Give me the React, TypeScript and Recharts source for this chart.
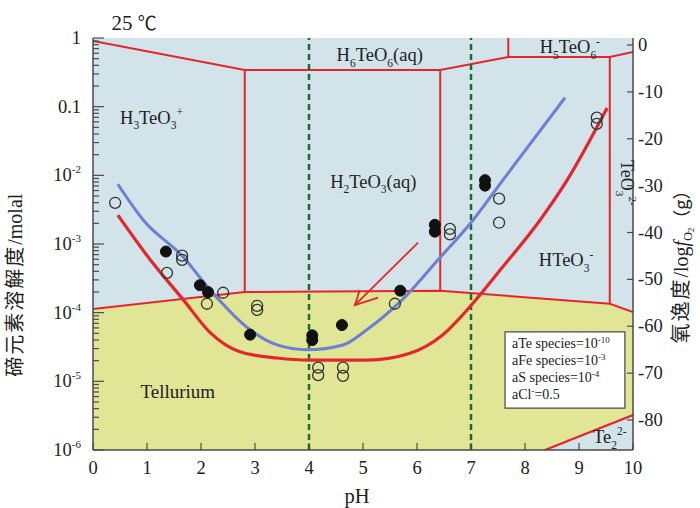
import React from 'react';
import {
  ComposedChart, XAxis, YAxis, Line, Area, Scatter, CartesianGrid,
  ReferenceLine, ReferenceArea, ReferenceDot,
} from 'recharts';

const SERIF = '"Liberation Serif", "Times New Roman", serif';
const CJK = '"Noto Sans CJK SC", "Noto Sans", sans-serif';
const BLUE_BG = '#d2e3ea';
const YELLOW = '#e1e697';
const RED = '#e4262c';
const BLUE_LINE = '#6c7fd4';
const GREEN = '#1f6a30';
const AXC = '#4a4a4a';
const TXT = '#222';

// ---------- axes ----------
const phTicks = [0, 1, 2, 3, 4, 5, 6, 7, 8, 9, 10];
const logMajor = [0, -1, -2, -3, -4, -5, -6];
const minorMult = [2, 3, 4, 5, 6, 7, 8, 9];
const logMinor = logMajor.slice(1).flatMap((n) => minorMult.map((k) => n + Math.log10(k)));
const leftTicks = [...logMajor, ...logMinor].sort((a, b) => a - b);
const fugTicks = [0, -10, -20, -30, -40, -50, -60, -70, -80];
const fugDomain = [-86.4, 1.5];

// ---------- measured points (pH, log10 molal) ----------
const filledPH = [1.35, 1.98, 2.13, 2.91, 4.06, 4.06, 4.61, 5.69, 6.33, 6.33, 7.26, 7.26];
const filledLogM = [-3.11, -3.6, -3.7, -4.32, -4.33, -4.4, -4.18, -3.68, -2.72, -2.82, -2.07, -2.15];

const openPH = [0.41, 1.65, 1.65, 1.37, 2.41, 2.11, 3.04, 3.04, 4.17, 4.17, 4.63, 4.63, 5.59, 6.61, 6.61, 7.52, 7.52, 9.33, 9.33];
const openLogM = [-2.4, -3.17, -3.23, -3.42, -3.71, -3.87, -3.9, -3.96, -4.8, -4.91, -4.8, -4.92, -3.87, -2.78, -2.86, -2.34, -2.69, -1.16, -1.25];

// ---------- fitted curves ----------
const blueCurvePH = [0.46, 0.93, 1.67, 2.17, 2.91, 3.41, 3.96, 4.63, 5.07, 5.69, 6.39, 7.04, 7.59, 8.74];
const blueCurveLogM = [-2.13, -2.65, -3.19, -3.67, -4.25, -4.47, -4.54, -4.47, -4.25, -3.84, -3.23, -2.65, -2.07, -0.87];

const redCurvePH = [0.46, 1.06, 1.67, 2.17, 2.72, 3.41, 4.02, 5.07, 5.87, 6.48, 7.04, 7.54, 8.28, 8.78, 9.52];
const redCurveLogM = [-2.58, -3.23, -3.81, -4.29, -4.57, -4.66, -4.69, -4.69, -4.59, -4.32, -3.86, -3.38, -2.65, -2.07, -1.02];

// ---------- phase boundaries ----------
const topBoundPH = [0, 2.81, 6.43, 7.69, 9.57, 10];
const topBoundLogM = [-0.044, -0.466, -0.466, -0.277, -0.277, -0.204];
const teBoundPH = [0, 2.81, 6.43, 9.57, 10];
const teBoundLogM = [-3.945, -3.7, -3.68, -3.87, -3.99];
const verticalPH = [2.81, 6.43, 7.69, 9.57];
const verticalTopLogM = [-0.466, -0.466, 0, -0.277];
const verticalBottomLogM = [-3.7, -3.68, -0.277, -3.87];
const te2PH = [8.37, 10];
const te2LogM = [-6, -5.49];

// ---------- arrow ----------
const arrowShaftPH = [6.02, 4.85];
const arrowShaftLogM = [-2.98, -3.89];
const arrowHeadPH = [4.94, 4.85, 5.28];
const arrowHeadLogM = [-3.67, -3.89, -3.78];

const guidePH = [4, 7];

const legendBoxPH = [7.63, 9.85];
const legendBoxLogM = [-5.39, -4.28];
const legendLines = [
  { pre: 'aTe species=10', sup: '-10', post: '' },
  { pre: 'aFe species=10', sup: '-3', post: '' },
  { pre: 'aS species=10', sup: '-4', post: '' },
  { pre: 'aCl', sup: '-', post: '=0.5' },
];

type Part = [string, 'n' | 'sub' | 'sup'];
const regionLabels: { ph: number; logm: number; anchor: string; size: number; rotate?: number; parts: Part[] }[] = [
  { ph: 0.5, logm: -1.25, anchor: 'start', size: 18.5, parts: [['H', 'n'], ['3', 'sub'], ['TeO', 'n'], ['3', 'sub'], ['+', 'sup']] },
  { ph: 5.31, logm: -0.335, anchor: 'middle', size: 18.5, parts: [['H', 'n'], ['6', 'sub'], ['TeO', 'n'], ['6', 'sub'], ['(aq)', 'n']] },
  { ph: 8.83, logm: -0.22, anchor: 'middle', size: 18.5, parts: [['H', 'n'], ['5', 'sub'], ['TeO', 'n'], ['6', 'sub'], ['-', 'sup']] },
  { ph: 5.19, logm: -2.18, anchor: 'middle', size: 18.5, parts: [['H', 'n'], ['2', 'sub'], ['TeO', 'n'], ['3', 'sub'], ['(aq)', 'n']] },
  { ph: 8.76, logm: -3.32, anchor: 'middle', size: 18.5, parts: [['HTeO', 'n'], ['3', 'sub'], ['-', 'sup']] },
  { ph: 9.78, logm: -2.11, anchor: 'middle', size: 18, rotate: 90, parts: [['TeO', 'n'], ['3', 'sub'], ['2-', 'sup']] },
  { ph: 1.57, logm: -5.24, anchor: 'middle', size: 19, parts: [['Tellurium', 'n']] },
  { ph: 9.57, logm: -5.9, anchor: 'middle', size: 18.5, parts: [['Te', 'n'], ['2', 'sub'], ['2-', 'sup']] },
];

const zip = (xs: number[], ys: number[]) => xs.map((x, i) => ({ x, y: ys[i] }));

const filledData = zip(filledPH, filledLogM);
const openData = zip(openPH, openLogM);
const blueCurve = zip(blueCurvePH, blueCurveLogM);
const redCurve = zip(redCurvePH, redCurveLogM);
const topBound = zip(topBoundPH, topBoundLogM);
const teBound = zip(teBoundPH, teBoundLogM);
const te2Line = zip(te2PH, te2LogM);
const tellurArea = teBoundPH.map((x, i) => ({ x, r: [-6, teBoundLogM[i]] }));
const te2Area = te2PH.map((x, i) => ({ x, r: [-6, te2LogM[i]] }));
const verticals = verticalPH.map((x, i) => [{ x, y: verticalTopLogM[i] }, { x, y: verticalBottomLogM[i] }]);
const arrowShaft = zip(arrowShaftPH, arrowShaftLogM);
const arrowHead = zip(arrowHeadPH, arrowHeadLogM);

function chemSpans(parts: Part[], size: number) {
  let shift = 0;
  return parts.map(([t, k], i) => {
    const target = k === 'sub' ? size * 0.3 : k === 'sup' ? -size * 0.42 : 0;
    const dy = target - shift;
    shift = target;
    return (
      <tspan key={i} dy={dy} fontSize={k === 'n' ? size : size * 0.62}>{t}</tspan>
    );
  });
}

function BottomTick(p: any) {
  const { x, y, payload } = p;
  return (
    <g>
      <line x1={x} x2={x} y1={y} y2={y - 7} stroke={AXC} strokeWidth={1.2} />
      <text x={x} y={y + 24} textAnchor="middle" fontFamily={SERIF} fontSize={18.5} fill={TXT}>{payload.value}</text>
    </g>
  );
}
function TopTick(p: any) {
  const { x, y } = p;
  return <line x1={x} x2={x} y1={y} y2={y + 6} stroke={AXC} strokeWidth={1.2} />;
}
function LeftTick(p: any) {
  const { x, y, payload } = p;
  const v = payload.value as number;
  const major = Math.abs(v - Math.round(v)) < 1e-9;
  let label: React.ReactNode = null;
  if (major) {
    const n = Math.round(v);
    if (n === 0) label = '1';
    else if (n === -1) label = '0.1';
    else label = (<>10<tspan dy={-8} fontSize={11}>{String(n)}</tspan></>);
  }
  return (
    <g>
      <line x1={x} x2={x + (major ? 11 : 6)} y1={y} y2={y} stroke={AXC} strokeWidth={1.2} />
      {major && (
        <text x={x - 12} y={y + 6} textAnchor="end" fontFamily={SERIF} fontSize={18.5} fill={TXT}>{label}</text>
      )}
    </g>
  );
}
function RightTick(p: any) {
  const { x, y, payload } = p;
  return (
    <g>
      <line x1={x} x2={x - 6} y1={y} y2={y} stroke={AXC} strokeWidth={1.2} />
      <text x={x + 5} y={y + 6} textAnchor="start" fontFamily={SERIF} fontSize={18.5} fill={TXT}>{payload.value}</text>
    </g>
  );
}

function LeftTitle(p: any) {
  const vb = p.viewBox;
  const cx = vb.x + 22;
  const cy = vb.y + vb.height * 0.6;
  return (
    <text x={cx} y={cy} textAnchor="middle" transform={`rotate(-90, ${cx}, ${cy})`} fontSize={20} fill={TXT}>
      <tspan fontFamily={CJK} letterSpacing={2}>碲元素溶解度</tspan>
      <tspan fontFamily={SERIF}>/molal</tspan>
    </text>
  );
}
function RightTitle(p: any) {
  const vb = p.viewBox;
  const cx = vb.x + 55;
  const cy = vb.y + vb.height * 0.545;
  return (
    <text x={cx} y={cy} textAnchor="middle" transform={`rotate(-90, ${cx}, ${cy})`} fontSize={20} fill={TXT}>
      <tspan fontFamily={CJK} letterSpacing={2}>氧逸度</tspan>
      <tspan fontFamily={SERIF}>/log</tspan>
      <tspan fontFamily={SERIF} fontStyle="italic">f</tspan>
      <tspan fontFamily={SERIF} fontSize={12} dy={4}>O</tspan>
      <tspan fontFamily={SERIF} fontSize={9} dy={2}>2</tspan>
      <tspan fontFamily={CJK} fontSize={18} dy={-6}>（g）</tspan>
    </text>
  );
}
function BottomTitle(p: any) {
  const vb = p.viewBox;
  return (
    <text x={vb.x + vb.width * 0.489} y={vb.y + 53} textAnchor="middle" fontFamily={SERIF} fontSize={20.5} fill={TXT}>pH</text>
  );
}

function makeRegionLabel(l: typeof regionLabels[number]) {
  return (p: any) => {
    const vb = p.viewBox;
    const cx = vb.x + vb.width / 2;
    const cy = vb.y + vb.height / 2;
    return (
      <text
        x={cx}
        y={cy}
        textAnchor={l.anchor as any}
        transform={l.rotate ? `rotate(${l.rotate}, ${cx}, ${cy})` : undefined}
        fontFamily={SERIF}
        fontSize={l.size}
        fill={TXT}
      >
        {chemSpans(l.parts, l.size)}
      </text>
    );
  };
}

function TitleLabel(p: any) {
  const vb = p.viewBox;
  const cx = vb.x + vb.width / 2;
  const cy = vb.y + vb.height / 2;
  return (
    <text x={cx} y={cy - 8} textAnchor="middle" fontFamily={SERIF} fontSize={21} fill={TXT}>
      25 <tspan fontFamily={CJK} fontSize={19}>℃</tspan>
    </text>
  );
}

function LegendBox(p: any) {
  const { x, y, width, height } = p.viewBox;
  return (
    <g>
      <rect x={x} y={y} width={width} height={height} fill="#fff" stroke="#444" strokeWidth={1.2} />
      {legendLines.map((l, i) => (
        <text key={i} x={x + 7} y={y + 16 + i * 17} fontFamily={SERIF} fontSize={14} fill={TXT}>
          {l.pre}
          <tspan dy={-5} fontSize={9}>{l.sup}</tspan>
          {l.post ? <tspan dy={5}>{l.post}</tspan> : null}
        </text>
      ))}
    </g>
  );
}

const circleFilled = (p: any) => <circle cx={p.cx} cy={p.cy} r={5.5} fill="#111" stroke="#111" strokeWidth={1} />;
const circleOpen = (p: any) => <circle cx={p.cx} cy={p.cy} r={5.5} fill="none" stroke="#333" strokeWidth={1.3} />;

export default function App() {
  return (
    <div style={{ position: 'absolute', left: 0, top: 0, width: 700, height: 508, background: '#fff' }}>
      <ComposedChart width={700} height={508} margin={{ top: 38, right: 0, bottom: 0, left: 0 }}>
        <CartesianGrid horizontal={false} vertical={false} fill={BLUE_BG} fillOpacity={1} />
        <XAxis
          dataKey="x" type="number" domain={[0, 10]} ticks={phTicks} interval={0}
          height={58} tickSize={0} tickMargin={0} tick={<BottomTick />}
          axisLine={{ stroke: AXC, strokeWidth: 1.5 }} tickLine={false} allowDataOverflow
          label={<BottomTitle />}
        />
        <XAxis
          xAxisId="top" orientation="top" dataKey="x" type="number" domain={[0, 10]} ticks={phTicks} interval={0}
          height={0} tickSize={0} tickMargin={0} tick={<TopTick />}
          axisLine={{ stroke: AXC, strokeWidth: 1.5 }} tickLine={false} allowDataOverflow
        />
        <YAxis
          type="number" domain={[-6, 0]} ticks={leftTicks} interval={0} width={93}
          tickSize={0} tickMargin={0} tick={<LeftTick />}
          axisLine={{ stroke: AXC, strokeWidth: 1.5 }} tickLine={false} allowDataOverflow
          label={<LeftTitle />}
        />
        <YAxis
          yAxisId="right" orientation="right" type="number" domain={fugDomain} ticks={fugTicks} interval={0} width={67}
          tickSize={0} tickMargin={0} tick={<RightTick />}
          axisLine={{ stroke: AXC, strokeWidth: 1.5 }} tickLine={false} allowDataOverflow
          label={<RightTitle />}
        />

        <Area data={tellurArea} dataKey="r" type="linear" stroke="none" fill={YELLOW} fillOpacity={1} dot={false} activeDot={false} isAnimationActive={false} />
        <Area data={te2Area} dataKey="r" type="linear" stroke="none" fill={BLUE_BG} fillOpacity={1} dot={false} activeDot={false} isAnimationActive={false} />

        <Line data={topBound} dataKey="y" type="linear" stroke={RED} strokeWidth={2} dot={false} activeDot={false} isAnimationActive={false} />
        <Line data={teBound} dataKey="y" type="linear" stroke={RED} strokeWidth={2} dot={false} activeDot={false} isAnimationActive={false} />
        <Line data={te2Line} dataKey="y" type="linear" stroke={RED} strokeWidth={2.2} dot={false} activeDot={false} isAnimationActive={false} />
        {verticals.map((d, i) => (
          <Line key={`v${i}`} data={d} dataKey="y" type="linear" stroke={RED} strokeWidth={2} dot={false} activeDot={false} isAnimationActive={false} />
        ))}

        {guidePH.map((x) => (
          <ReferenceLine key={`g${x}`} x={x} stroke={GREEN} strokeWidth={2.5} strokeDasharray="6 4" />
        ))}

        <Line data={redCurve} dataKey="y" type="monotone" stroke={RED} strokeWidth={3.2} dot={false} activeDot={false} isAnimationActive={false} />
        <Line data={blueCurve} dataKey="y" type="monotone" stroke={BLUE_LINE} strokeWidth={3} dot={false} activeDot={false} isAnimationActive={false} />

        <Line data={arrowShaft} dataKey="y" type="linear" stroke={RED} strokeWidth={1.8} dot={false} activeDot={false} isAnimationActive={false} />
        <Line data={arrowHead} dataKey="y" type="linear" stroke={RED} strokeWidth={1.8} dot={false} activeDot={false} isAnimationActive={false} />

        <Scatter data={openData} dataKey="y" shape={circleOpen} isAnimationActive={false} />
        <Scatter data={filledData} dataKey="y" shape={circleFilled} isAnimationActive={false} />

        {regionLabels.map((l, i) => (
          <ReferenceDot key={`l${i}`} x={l.ph} y={l.logm} r={1} fill="none" stroke="none" ifOverflow="visible" label={makeRegionLabel(l)} />
        ))}
        <ReferenceDot x={0.76} y={0} r={1} fill="none" stroke="none" ifOverflow="visible" label={<TitleLabel />} />

        <ReferenceArea
          x1={legendBoxPH[0]} x2={legendBoxPH[1]} y1={legendBoxLogM[0]} y2={legendBoxLogM[1]}
          fill="none" stroke="none" ifOverflow="visible" label={<LegendBox />}
        />
      </ComposedChart>
    </div>
  );
}
